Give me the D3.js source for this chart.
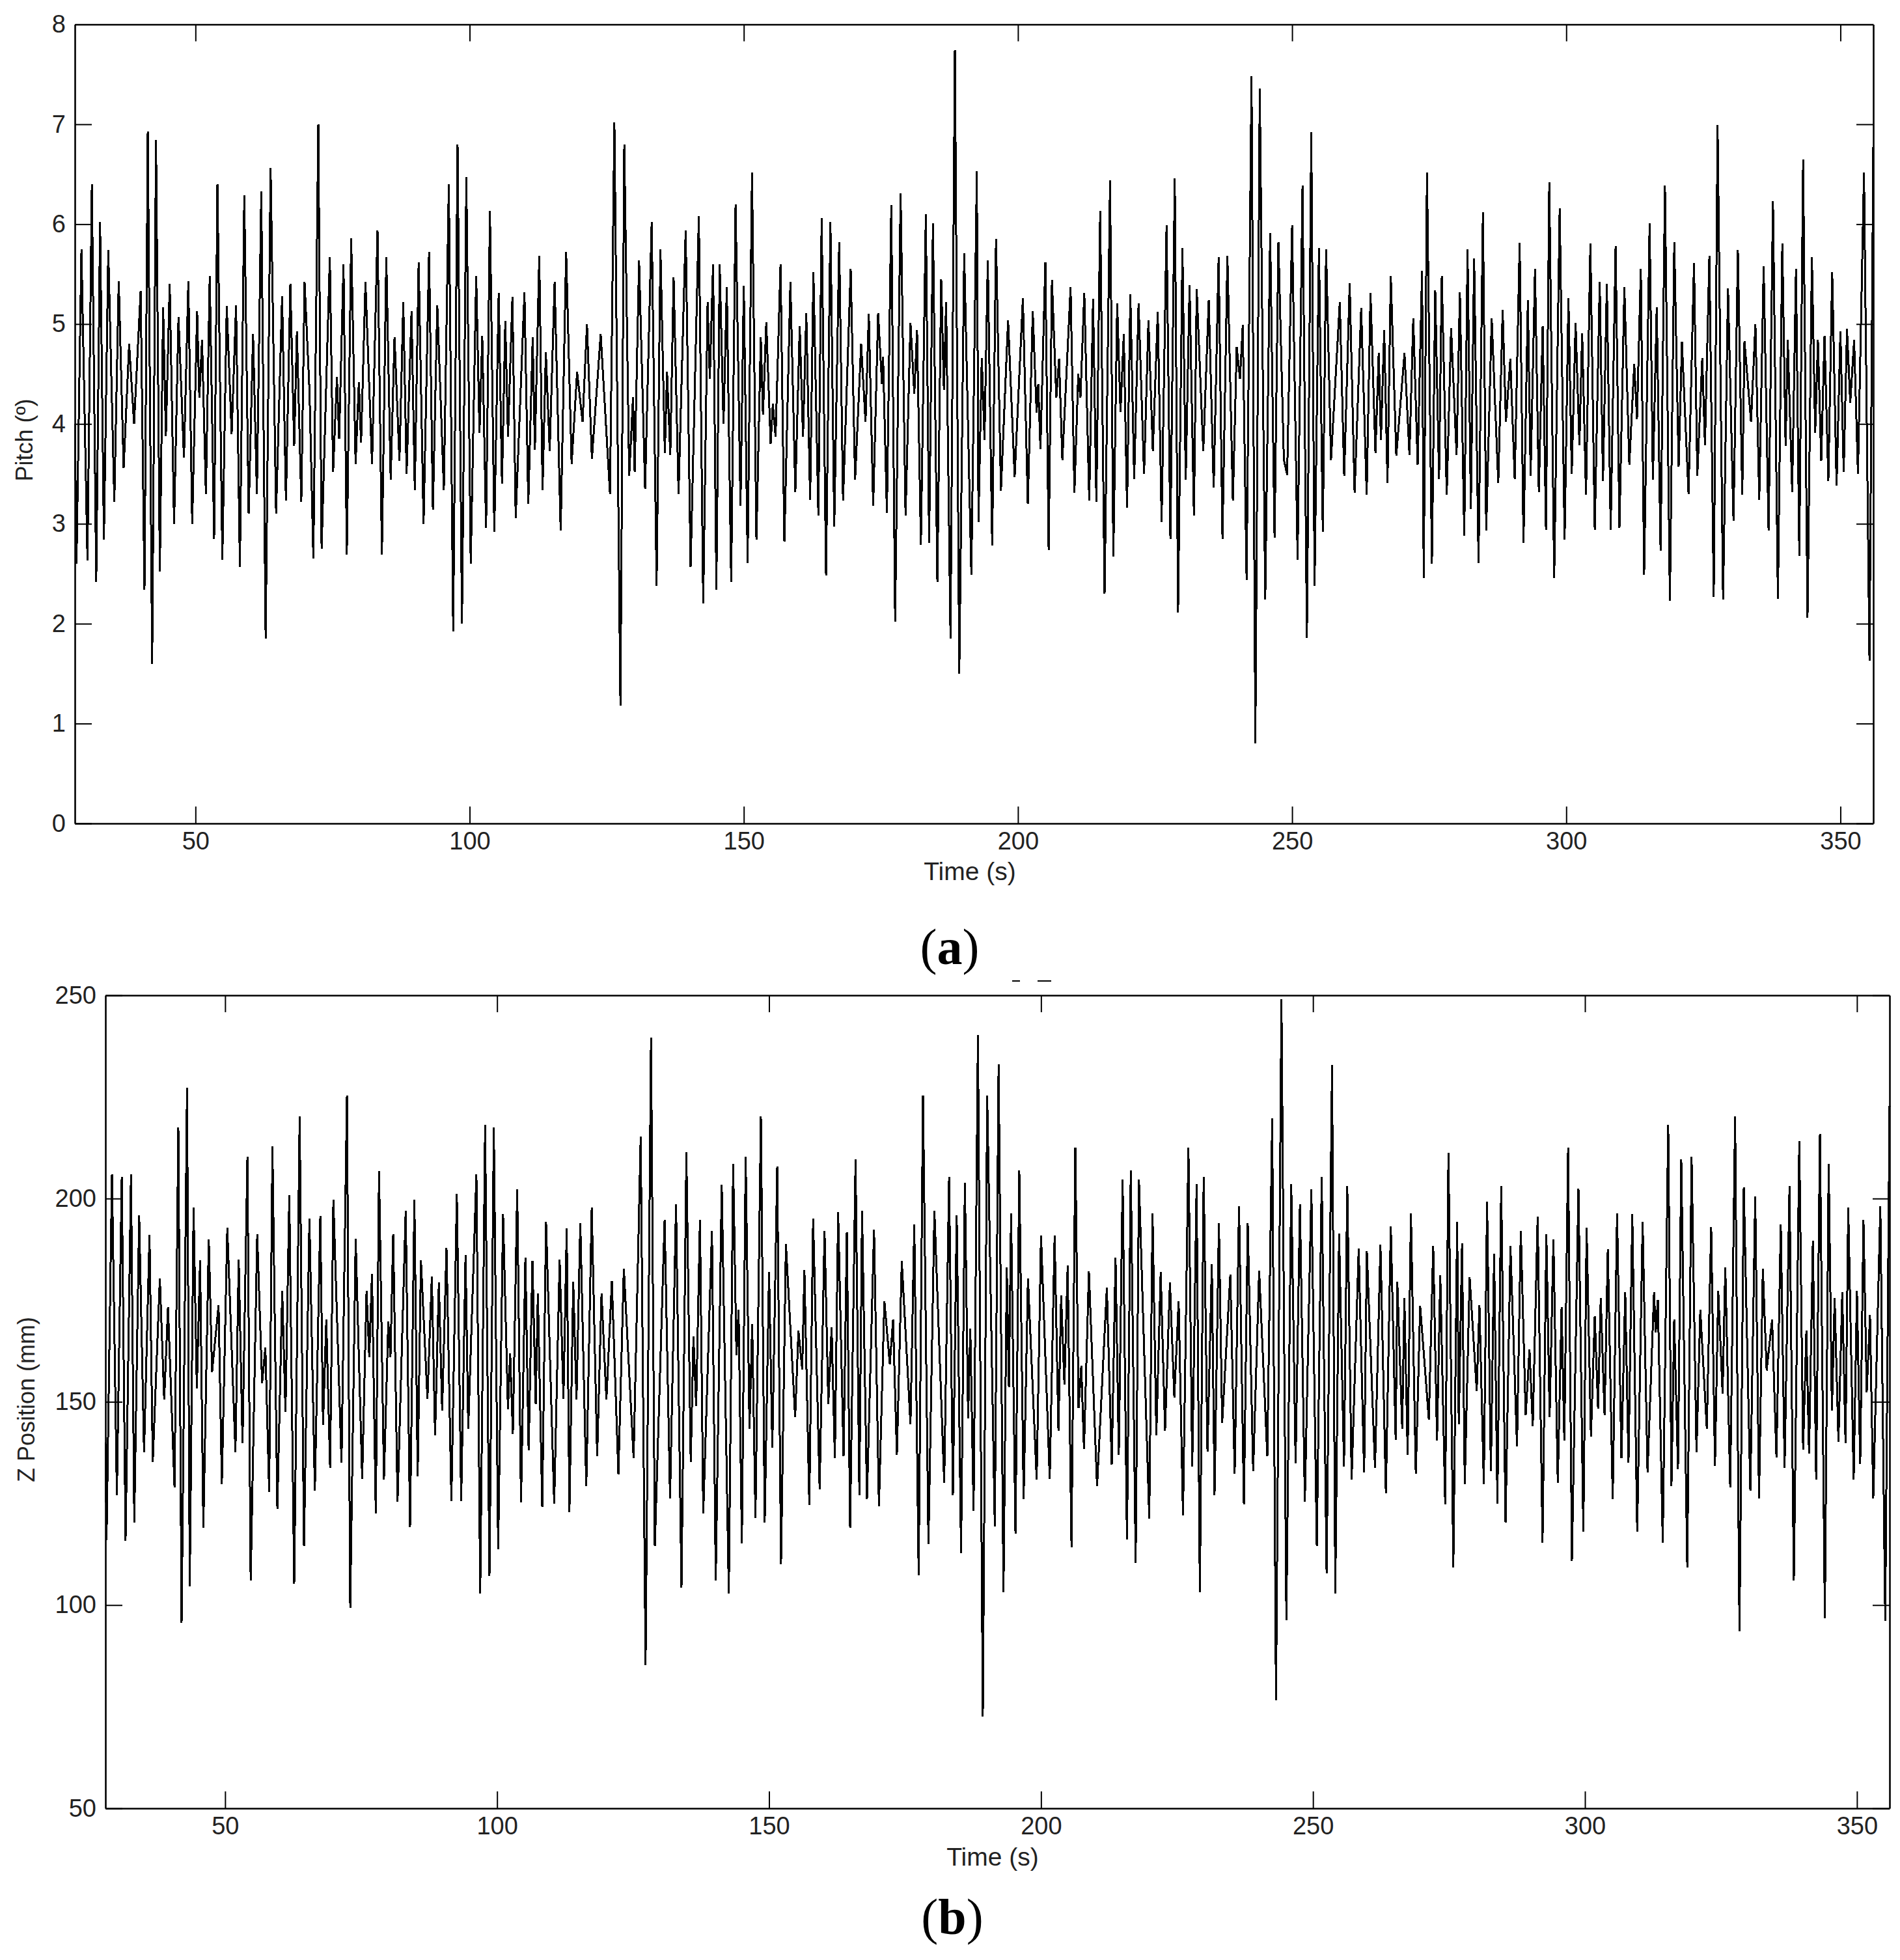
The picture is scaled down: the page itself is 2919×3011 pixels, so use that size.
<!DOCTYPE html>
<html>
<head>
<meta charset="utf-8">
<script src="https://cdn.jsdelivr.net/npm/d3@7"></script>
<style>
  html, body { margin: 0; background: #fff; }
  svg { display: block; }
  text { font-family: "Liberation Sans", Arial, sans-serif; fill: #222; }
</style>
</head>
<body>
<svg id="chart" width="2919" height="3011"></svg>
<script>
// Extrema, as [time (s), value]
const pitchReadings = [
  [28,4],[28.3,2.6],[29.2,5.75],[30.3,2.63],[31.1,6.4],[31.9,2.42],[32.6,6.02],[33.3,2.84],[34.1,5.74],[35.2,3.22],
  [36,5.43],[36.9,3.56],[37.9,4.8],[38.8,4],[40,5.33],[40.7,2.34],[41.3,6.93],[42.1,1.6],[42.8,6.84],[43.5,2.52],
  [44.1,5.17],[44.6,3.88],[45.3,5.4],[46.1,3],[46.9,5.07],[47.9,3.66],[48.7,5.43],[49.4,3],[50.3,5.13],[50.7,4.26],
  [51.2,4.84],[51.9,3.3],[52.6,5.48],[53.4,2.85],[54,6.4],[54.9,2.64],[55.7,5.18],[56.6,3.9],[57.4,5.19],[58.1,2.57],
  [58.9,6.29],[59.7,3.1],[60.5,4.9],[61.2,3.3],[62,6.33],[62.8,1.85],[63.7,6.56],[64.7,3.1],[65.8,5.28],[66.5,3.23],
  [67.3,5.4],[68,3.78],[68.5,4.93],[69.3,3.22],[69.9,5.42],[70.8,4.32],[71.5,2.65],[72.4,7],[73,2.75],[74.5,5.67],
  [75.1,3.52],[75.8,4.47],[76.2,3.85],[77,5.6],[77.6,2.69],[78.4,5.86],[79.2,3.6],[79.8,4.42],[80.2,3.81],[81,5.42],
  [82.2,3.6],[83.2,5.94],[84,2.69],[84.8,5.67],[85.6,3.44],[86.3,4.87],[87.2,3.63],[87.9,5.22],[88.5,3.5],[89.4,5.13],
  [90,3.34],[90.7,5.62],[91.6,3],[92.6,5.72],[93.3,3.14],[94.1,5.19],[95.3,3.34],[96.2,6.4],[97,1.92],[97.8,6.8],
  [98.6,2],[99.4,6.47],[100.2,2.6],[101.2,5.48],[101.8,3.91],[102.3,4.88],[103,2.96],[103.7,6.13],[104.5,2.92],[105.3,5.31],
  [105.9,3.4],[106.5,5.03],[107,3.87],[107.8,5.27],[108.4,3.06],[110,5.32],[110.7,3.2],[111.5,4.87],[111.9,3.74],[112.7,5.68],
  [113.3,3.34],[113.9,4.72],[114.6,3.73],[115.5,5.42],[116.6,2.93],[117.6,5.72],[118.6,3.6],[119.6,4.52],[120.6,4.02],[121.4,5],
  [122.3,3.65],[123.9,4.9],[125.6,3.3],[126.4,7.02],[127.5,1.18],[128.2,6.8],[129.1,3.48],[129.8,4.27],[130.1,3.52],[130.9,5.64],
  [132,3.35],[133.2,6.02],[134.1,2.38],[134.8,5.75],[135.6,3.71],[136,4.52],[136.6,3.69],[137.2,5.47],[138.1,3.3],[139.4,5.94],
  [140.3,2.57],[141.8,6.08],[142.6,2.2],[143.4,5.22],[143.8,4.45],[144.4,5.6],[145,2.34],[145.6,5.6],[146.3,4],[146.9,5.37],
  [147.7,2.42],[148.5,6.2],[149.4,3.18],[150,5.38],[150.7,2.61],[151.5,6.52],[152.3,2.84],[153.1,4.87],[153.5,4.09],[154.1,5.02],
  [154.9,3.8],[155.3,4.2],[155.8,3.87],[156.7,5.6],[157.4,2.82],[158.5,5.42],[159.4,3.32],[160.2,4.98],[160.8,3.87],[161.4,5.11],
  [162.1,3.24],[162.7,5.52],[163.6,3.08],[164.2,6.06],[165,2.48],[165.8,6.02],[166.5,2.97],[167.4,5.82],[168.1,3.23],[169.5,5.55],
  [170.3,3.44],[171.4,4.8],[172.2,4.02],[172.8,5.1],[173.6,3.18],[174.5,5.11],[175.2,4.4],[175.4,4.67],[176.1,3.11],[176.9,6.19],
  [177.6,2.02],[178.6,6.31],[179.5,3.08],[180.4,5.01],[181.1,4.3],[181.6,4.94],[182.3,2.79],[183.2,6.1],[183.8,2.81],[184.5,6.01],
  [185.3,2.42],[186,5.45],[186.5,4.34],[186.9,5.22],[187.7,1.85],[188.5,7.74],[189.3,1.5],[190.2,5.71],[191.5,2.49],[192.5,6.53],
  [192.8,3.02],[193.4,4.66],[193.9,3.84],[194.5,5.64],[195.3,2.78],[196,5.85],[196.9,3.33],[198.2,5.04],[199.4,3.47],[200.9,5.26],
  [201.8,3.2],[202.7,5.13],[203.4,4.11],[203.7,4.4],[204.1,3.75],[205,5.62],[205.6,2.74],[206.2,5.44],[207,4.26],[207.5,4.65],
  [208.1,3.64],[209.6,5.37],[210.3,3.31],[211,4.5],[211.4,4.26],[212.1,5.31],[213,3.23],[213.7,5.25],[214.3,3.22],[215,6.13],
  [215.8,2.3],[216.8,6.44],[217.4,2.67],[218.1,5.21],[218.7,4.12],[219.3,4.9],[219.9,3.16],[220.5,5.3],[221.2,3.45],[222,5.21],
  [223,3.5],[223.8,5.04],[224.6,3.73],[225.5,5.12],[226.2,3.02],[227.1,5.99],[227.8,2.85],[228.6,6.46],[229.2,2.11],[230,5.76],
  [230.6,3.44],[231.3,5.39],[232.1,3.08],[232.6,5.35],[233.8,3.73],[234.8,5.24],[235.7,3.36],[236.6,5.67],[237.3,2.85],[238.2,5.68],
  [239.2,3.23],[239.9,4.77],[240.5,4.45],[241,4.99],[241.7,2.44],[242.6,7.48],[243.3,0.8],[244.1,7.36],[245.1,2.24],[246,5.91],
  [246.8,2.86],[247.5,5.82],[248.5,3.64],[249.1,3.49],[250,5.99],[251,2.64],[251.9,6.39],[252.7,1.86],[253.5,6.92],[254.1,2.38],
  [254.9,5.76],[255.6,2.92],[256.2,5.75],[257.1,3.64],[258.7,5.22],[259.5,3.48],[260.5,5.41],[261.4,3.31],[262.6,5.16],[263.6,3.29],
  [264.3,5.31],[265.2,3.71],[265.8,4.71],[266.2,3.84],[266.8,4.94],[267.4,3.41],[268,5.48],[269,3.68],[270.5,4.71],[271.4,3.69],
  [272.1,5.06],[272.9,3.59],[273.7,5.53],[274,2.46],[274.6,6.52],[275.5,2.6],[276.1,5.34],[276.8,3.45],[277.3,5.48],[278.2,3.29],
  [279,4.96],[280,3.69],[280.6,5.32],[281.4,2.88],[282,5.75],[282.6,3.15],[283.2,5.66],[284,2.61],[284.8,6.12],[285.4,2.93],
  [286.4,5.06],[287.6,3.41],[288.4,5.14],[289,4.02],[289.8,4.65],[290.6,3.45],[291.5,5.81],[292.2,2.81],[293,5.24],[293.5,3.48],
  [294.3,5.55],[295,3.32],[295.7,4.98],[296.3,2.94],[296.9,6.42],[297.8,2.46],[298.8,6.16],[299.7,2.84],[300.4,5.26],[301,3.5],
  [301.7,5.01],[302.4,3.79],[302.9,4.91],[303.6,3.29],[304.4,5.81],[305.2,2.94],[306.1,5.42],[306.7,3.43],[307.4,5.4],[308.1,2.94],
  [309,5.78],[309.7,2.96],[310.6,5.37],[311.5,3.59],[312.4,4.6],[312.9,4.05],[313.6,5.55],[314.2,2.49],[315.2,6.01],[315.8,3.44],
  [316.5,5.17],[317.2,2.73],[318,6.39],[318.9,2.23],[319.7,5.82],[320.5,3.57],[321.1,4.82],[322.3,3.3],[323.3,5.61],[323.9,3.48],
  [324.8,4.66],[325.3,3.79],[326.1,5.68],[326.9,2.27],[327.6,6.99],[328.6,2.24],[329.5,5.36],[330.5,3.03],[331.3,5.74],[332.1,3.29],
  [332.5,4.83],[333.7,4.02],[334.5,5],[335.2,3.24],[336,5.58],[336.9,2.93],[337.7,6.23],[338.6,2.25],[339.4,5.81],[340,3.78],
  [340.4,4.84],[341.2,3.32],[341.9,5.55],[342.5,2.68],[343.2,6.65],[344,2.06],[344.8,5.67],[345.4,3.91],[345.9,4.84],[346.5,3.63],
  [347.1,4.88],[347.8,3.43],[348.5,5.52],[349.3,3.38],[350,4.93],[350.6,3.52],[351.2,4.95],[351.8,4.21],[352.5,4.84],[353.2,3.5],
  [354.3,6.52],[355.3,1.63],[356,6.77]
];

const zReadings = [
  [28,140],[28.2,116],[29.2,206],[30.1,127],[31,205.4],[31.7,115.8],[32.7,206],[33.3,120.3],[34.2,195.9],[35.1,137.6],
  [36.1,191],[36.7,135.2],[38,180.4],[38.8,150.5],[39.5,173.3],[40.7,128.9],[41.4,217.5],[42,95.7],[43,227.3],[43.5,104.6],
  [44.2,197.8],[44.8,153.3],[45.4,184.8],[46,119],[47,189.9],[47.6,157.3],[48.8,173.8],[49.4,129.8],[50.4,192.8],[51.9,137.6],
  [52.5,185],[53.2,139.8],[54.1,210.3],[54.7,106],[55.9,191.2],[56.8,154.6],[57.4,163.4],[58.1,127.8],[58.7,212.8],[59.6,123.6],
  [60.5,177.3],[61.1,147.5],[61.8,200.8],[62.7,105.2],[63.7,220.2],[64.5,114.5],[65.5,195.1],[66.5,128.1],[67.5,195.7],[68,144.3],
  [68.6,170.2],[69.3,133.8],[69.9,199.7],[71.4,135],[72.4,225.4],[73,99.4],[74,190.1],[75.2,131.1],[76,177.3],[76.5,161],[77,181.4],
  [77.7,122.5],[78.3,206.8],[79.2,130.9],[80,169.7],[80.4,161],[80.9,191.3],[81.7,125.4],[83.2,197],[84,119.2],[84.8,199.7],[85.4,131.6],
  [86,184.8],[87.2,150.8],[88,180.8],[88.6,141.8],[89.3,179.3],[89.9,147.8],[90.7,187.9],[91.6,125.6],[92.6,201.1],[93.4,125.6],
  [94.2,186.1],[94.7,143.4],[96.2,206],[96.9,102.9],[97.8,218.1],[98.6,107.2],[99.4,217.5],[100.2,113.7],[101.1,196.2],[102,148.1],
  [102.4,162],[102.9,142.1],[103.7,202.2],[104.4,125.2],[105.2,185.5],[105.8,138],[106.5,184.6],[107.1,149.5],[107.5,176.6],[108.3,124.1],
  [109,194.3],[110.5,124.9],[111.5,185],[112.2,150.8],[112.8,192.6],[113.3,122.9],[114,179.5],[114.6,150.5],[115.3,194],[116.4,129.2],
  [117.4,197.8],[118.4,136.6],[119.2,176.6],[120.1,150.5],[121.1,179.7],[122.3,132.2],[123.3,182.8],[125.1,136.1],[126.4,215.2],[127.3,85.2],
  [128.3,239.6],[129,114.5],[130.8,194.8],[131.8,126.3],[132.9,198.6],[133.9,104.3],[134.8,211.4],[135.6,135.2],[136.1,166.1],[136.6,148.9],
  [137.3,194.8],[137.9,122.5],[139.5,192.1],[140.2,106],[141.3,203.4],[142.6,102.8],[143.4,208.5],[144,161.5],[144.4,172.6],[145,115.2],[145.7,210.3],
  [146.4,143.4],[146.9,169.1],[147.5,121.4],[148.5,220.2],[149.2,120.3],[150,182],[150.6,138.7],[151.5,207.9],[152.2,110.1],[153.1,188.8],
  [154.8,146.2],[155.4,167.5],[156.1,157.9],[156.5,182.5],[157.4,124.6],[158.1,195.1],[159.3,128.5],[160.2,192.1],[160.9,149.5],[161.5,168.4],
  [162.1,136.1],[162.7,196.7],[163.7,136.7],[164.3,191.7],[164.9,119],[165.9,209.6],[166.6,127],[167.1,197],[168,126],[169.3,192.4],
  [170.2,124.3],[171.2,174.8],[172.2,159.3],[172.8,170.2],[173.5,136.9],[174.4,184.6],[176,144.5],[176.7,193.7],[177.5,107.4],[178.3,225.4],
  [179.3,115],[180.4,197],[182.2,130.1],[183.1,205.4],[183.8,127],[184.5,195.9],[185.3,112.8],[186,203.9],[186.6,146],[187,168],
  [187.6,123.2],[188.4,240.2],[189.3,72.5],[190.1,225.4],[191.5,119.4],[192.2,233],[193.1,103.2],[193.7,183.1],[194.1,153.6],[194.5,196.3],
  [195.3,117.6],[196,207],[196.8,126],[197.6,180.4],[199.2,130.9],[200,190.9],[201.6,131.1],[202.5,190.9],[203.2,142.9],[203.7,176.1],
  [204.3,154.2],[204.9,183.6],[205.6,114.2],[206.3,212.5],[206.9,148.5],[207.4,158.8],[207.9,138.4],[208.8,182.1],[210.3,129.2],[212.1,178.1],
  [213,134.6],[213.7,185.4],[214.3,136.9],[215,204.7],[215.8,116.1],[216.5,207],[217.4,110.4],[218,204.7],[219.9,121.3],[220.5,196.3],
  [221.2,141.8],[222,181.9],[222.8,142.9],[223.7,179.3],[224.5,151.1],[225.3,174.8],[226.1,122.1],[227.1,212.5],[227.8,134],[228.6,203.5],
  [229.2,103.2],[229.9,205.3],[230.6,137.8],[231.4,183.9],[231.9,127.1],[232.7,194],[233.3,144.8],[234.8,181.3],[235.6,132.3],[236.4,198.1],
  [237.3,124.8],[238,194],[239,132.9],[240.1,182.3],[241.6,136.6],[242.5,219.7],[243.2,76.6],[244.2,249.1],[245.1,96.2],[246,203.5],
  [246.8,134.8],[247.6,198.6],[248.5,125.4],[249.7,202.3],[250.7,114.6],[251.6,205.3],[252.5,107.8],[253.5,232.9],[254.1,102.9],[254.8,191.4],
  [255.7,134],[256.3,203],[257.1,130.9],[258.4,187.7],[259.4,132.6],[259.9,187.1],[261.4,133.8],[262.4,188.6],[263.4,127.5],[264.3,193.2],
  [265.2,140.6],[265.5,179.6],[266.4,143.3],[266.8,175.6],[267.4,136.9],[268,196.3],[268.9,132.3],[269.7,173.6],[271.3,145.6],[272.1,188.3],
  [272.8,140.4],[273.4,181.1],[274.3,124.8],[274.9,211.3],[275.8,109.2],[276.5,194.3],[276.8,144.5],[277.4,189],[277.9,129.8],[278.8,180.6],
  [280.1,152.7],[280.6,173.8],[281.4,129.8],[282,199.2],[282.7,133],[283.3,186.4],[283.9,124.9],[284.6,203],[285.4,120.3],[286.3,188.3],
  [287.5,139.1],[288.2,192.1],[289.1,146.7],[289.8,162.9],[290.4,144],[291.3,195.6],[292.2,115.4],[292.9,191.3],[293.5,146.2],[294.2,189.9],
  [295,130.1],[295.7,173.3],[296.2,140.4],[296.9,212.5],[297.6,110.9],[298.8,202.5],[299.7,118],[300.3,192.8],[301.1,141.5],[301.8,171.1],
  [302.4,148.4],[302.9,175.5],[303.6,146.7],[304.2,187.5],[305.1,126],[305.9,196.4],[306.7,136.1],[307.4,177],[308,135],[308.7,196.2],
  [309.6,118],[310.6,194.3],[311.5,132.7],[312.7,177],[313,167],[313.4,175.1],[314.3,115.4],[315.3,218.1],[315.9,129.2],[316.4,170.2],
  [317.1,133.4],[317.7,209.6],[318.8,109.2],[319.6,210.3],[320.5,137.6],[321.2,172.6],[322.4,143.4],[323.2,193],[323.9,134.2],[324.5,177.3],
  [325.3,152],[325.8,183.1],[326.7,128.9],[327.6,220.2],[328.4,93.5],[329.2,202.7],[330.4,128.1],[331.3,200.5],[332,126.3],[332.7,182.8],
  [333.4,157.7],[334.4,170.2],[335.2,136.3],[336,193.7],[336.7,133.8],[337.6,203],[338.4,106],[339.4,214.2],[340.1,138.3],[340.7,167.5],
  [341.2,137.2],[341.9,189.6],[342.5,130.9],[343.2,215.9],[344.1,96.8],[344.8,208.5],[345.4,147.8],[345.9,175.5],[346.6,140.2],[347.3,177],
  [347.9,139.8],[348.4,197.8],[349.4,130.9],[350,177.3],[350.6,134.7],[351.2,194.8],[351.8,152.4],[352.4,171.3],[353,126.3],[354.3,198.1],
  [355.2,96.1],[356,222.7]
];

const timeDomain = [28, 356];
const timeTicks = [50, 100, 150, 200, 250, 300, 350];
const pitchTicks = [0, 1, 2, 3, 4, 5, 6, 7, 8];
const zTicks = [50, 100, 150, 200, 250];

// ---- layout ----
const TICK_LEN = 26;
const panels = [
  { readings: pitchReadings, yDomain: [0, 8], yTicks: pitchTicks, yLabel: "Pitch (º)",
    left: 115, right: 2878, top: 37.5, bottom: 1265,
    xLabel: [1490, 1352], yLabelPos: [50, 676], tag: "a", tagPos: [1459, 1481] },
  { readings: zReadings, yDomain: [50, 250], yTicks: zTicks, yLabel: "Z Position (mm)",
    left: 162, right: 2903, top: 1529, bottom: 2778,
    xLabel: [1525, 2866], yLabelPos: [53, 2150], tag: "b", tagPos: [1463, 2971] }
];

const svg = d3.select("#chart");

function drawPanel(p) {
  const x = d3.scaleLinear().domain(timeDomain).range([p.left, p.right]);
  const y = d3.scaleLinear().domain(p.yDomain).range([p.bottom, p.top]);

  const g = svg.append("g");

  const line = d3.line()
    .x(d => x(d[0]))
    .y(d => y(d[1]));

  g.append("path")
    .datum(p.readings)
    .attr("fill", "none")
    .attr("stroke", "#000")
    .attr("stroke-width", 3)
    .attr("stroke-linejoin", "bevel")
    .attr("shape-rendering", "crispEdges")
    .attr("d", line);

  // box axes, MATLAB style: ticks point inwards on all four sides
  const bottom = d3.axisBottom(x).tickValues(timeTicks).tickSizeInner(-TICK_LEN).tickSizeOuter(0).tickPadding(13);
  const top = d3.axisTop(x).tickValues(timeTicks).tickSizeInner(-TICK_LEN).tickSizeOuter(0).tickFormat("");
  const left = d3.axisLeft(y).tickValues(p.yTicks).tickSizeInner(-TICK_LEN).tickSizeOuter(0).tickPadding(14);
  const right = d3.axisRight(y).tickValues(p.yTicks).tickSizeInner(-TICK_LEN).tickSizeOuter(0).tickFormat("");

  [[bottom, 0, p.bottom], [top, 0, p.top], [left, p.left, 0], [right, p.right, 0]].forEach(([axis, tx, ty]) => {
    const a = g.append("g").attr("transform", `translate(${tx},${ty})`).call(axis);
    a.attr("font-family", null).attr("font-size", null);
    a.select(".domain").attr("stroke", "#000").attr("stroke-width", 2.6);
    a.selectAll(".tick line").attr("stroke", "#000").attr("stroke-width", 2);
    a.selectAll(".tick text").style("font-size", "38px");
  });

  g.append("text")
    .attr("x", p.xLabel[0]).attr("y", p.xLabel[1])
    .attr("text-anchor", "middle").style("font-size", "39px")
    .text("Time (s)");

  g.append("text")
    .attr("transform", `translate(${p.yLabelPos[0]},${p.yLabelPos[1]}) rotate(-90)`)
    .attr("text-anchor", "middle").style("font-size", "36px")
    .text(p.yLabel);

  const tag = g.append("text")
    .attr("x", p.tagPos[0]).attr("y", p.tagPos[1])
    .attr("text-anchor", "middle")
    .style("font-family", '"Liberation Serif", serif')
    .style("font-size", "78px")
    .style("fill", "#000");
  tag.append("tspan").text("(");
  tag.append("tspan").style("font-weight", "bold").text(p.tag);
  tag.append("tspan").text(")");
}

panels.forEach(drawPanel);

// two stray dashes above the lower plot in the scan
[[1555, 1567], [1594, 1615]].forEach(d => {
  svg.append("line")
    .attr("x1", d[0]).attr("x2", d[1]).attr("y1", 1507).attr("y2", 1507)
    .attr("stroke", "#000").attr("stroke-width", 2);
});
</script>
</body>
</html>
